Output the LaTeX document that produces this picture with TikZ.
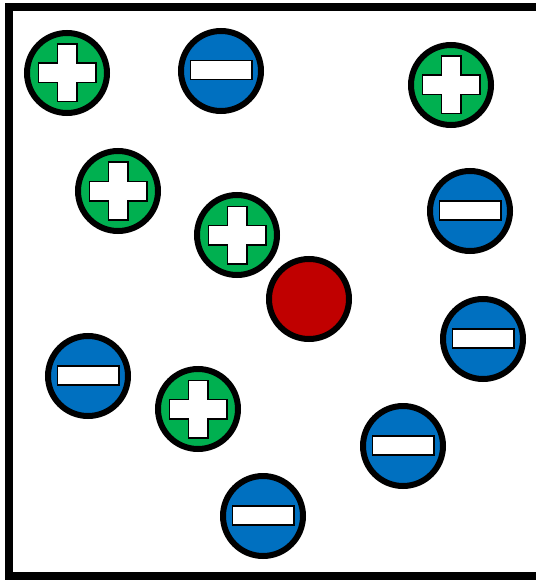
\documentclass[tikz,border=0pt]{standalone}
\definecolor{posgreen}{HTML}{00B050}
\definecolor{negblue}{HTML}{0070C0}
\definecolor{chargered}{HTML}{C00000}
\tikzset{
  particle/.style={circle, draw=black, line width=6pt, minimum size=80pt, inner sep=0pt},
  plusion/.style={particle, fill=posgreen, path picture={
    \draw[fill=white, line width=1.5pt, shift={(path picture bounding box.center)}]
      (-9.75pt,-28.75pt) -- (9.75pt,-28.75pt) -- (9.75pt,-9.75pt) -- (28.75pt,-9.75pt)
      -- (28.75pt,9.75pt) -- (9.75pt,9.75pt) -- (9.75pt,28.75pt) -- (-9.75pt,28.75pt)
      -- (-9.75pt,9.75pt) -- (-28.75pt,9.75pt) -- (-28.75pt,-9.75pt) -- (-9.75pt,-9.75pt) -- cycle;}},
  minusion/.style={particle, fill=negblue, path picture={
    \draw[fill=white, line width=1.5pt, shift={(path picture bounding box.center)}]
      (-30.75pt,-8.75pt) rectangle (30.75pt,10.25pt);}},
  centralion/.style={particle, fill=chargered}
}
\begin{document}
\begin{tikzpicture}[x=1pt,y=-1pt]
\useasboundingbox (0,0) rectangle (535,580);
\draw[line width=8pt] (9,7) rectangle (539.5,576);
% positive ions
\node[plusion] (p1) at (67,73) {};
\node[plusion] (p2) at (118,191) {};
\node[plusion] (p3) at (237,235) {};
\node[plusion] (p4) at (451,85) {};
\node[plusion] (p5) at (198,409) {};
% negative ions
\node[minusion] (m1) at (221,71) {};
\node[minusion] (m2) at (470,211) {};
\node[minusion] (m3) at (483,339) {};
\node[minusion] (m4) at (88,376) {};
\node[minusion] (m5) at (403,446) {};
\node[minusion] (m6) at (263,516) {};
% central charge
\node[centralion] (c) at (309,299) {};
\end{tikzpicture}
\end{document}
